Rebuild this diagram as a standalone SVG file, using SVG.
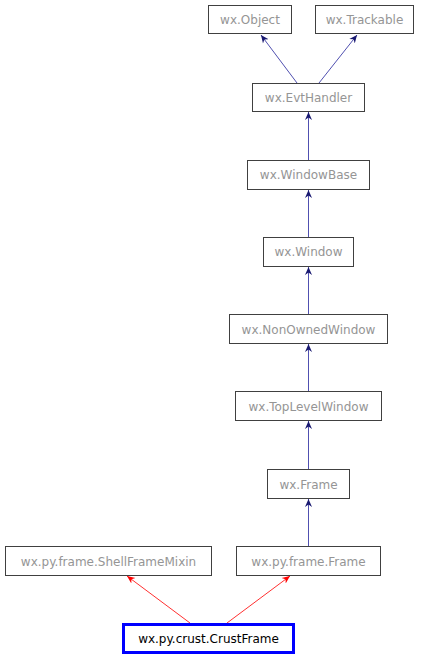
<svg xmlns="http://www.w3.org/2000/svg" width="424" height="659" viewBox="0 0 424 659">
<defs>
<style>
.node rect{fill:#ffffff;stroke:#404040;stroke-width:1}
.node text{font-family:"DejaVu Sans","Liberation Sans",sans-serif;font-size:12px;fill:#959595;text-anchor:middle}
.edge{fill:none;stroke-width:1}
.blue{stroke:#5050b0;marker-end:url(#ab)}
.red{stroke:#ff3030;marker-end:url(#ar)}
#crust rect{stroke:#0000ff;stroke-width:3}
#crust text{fill:#000000}
</style>
<marker id="ab" viewBox="-8 -4 8 8" refX="0" refY="0" markerWidth="8" markerHeight="8" markerUnits="userSpaceOnUse" orient="auto">
<path d="M0,0 L-8,-3.5 L-5.5,0 L-8,3.5 Z" fill="#191970"/>
</marker>
<marker id="ar" viewBox="-8 -4 8 8" refX="0" refY="0" markerWidth="8" markerHeight="8" markerUnits="userSpaceOnUse" orient="auto">
<path d="M0,0 L-8,-3.5 L-5.5,0 L-8,3.5 Z" fill="#ff0000"/>
</marker>
</defs>
<rect width="424" height="659" fill="#ffffff"/>
<g id="connectors">
<line class="edge blue" x1="297" y1="83" x2="261" y2="35"/>
<line class="edge blue" x1="319" y1="83" x2="357" y2="35"/>
<line class="edge blue" x1="308.5" y1="160" x2="308.5" y2="112"/>
<line class="edge blue" x1="308.5" y1="237" x2="308.5" y2="190"/>
<line class="edge blue" x1="308.5" y1="314" x2="308.5" y2="267"/>
<line class="edge blue" x1="308.5" y1="391" x2="308.5" y2="344"/>
<line class="edge blue" x1="308.5" y1="469" x2="308.5" y2="421"/>
<line class="edge blue" x1="308.5" y1="546" x2="308.5" y2="499"/>
<line class="edge red" x1="190" y1="623" x2="127" y2="576"/>
<line class="edge red" x1="227" y1="623" x2="290" y2="576"/>
</g>
<g id="object" class="node"><rect x="208.5" y="5.5" width="83" height="28"/><text x="250" y="23.5">wx.Object</text></g>
<g id="trackable" class="node"><rect x="315.5" y="5.5" width="98" height="28"/><text x="364.5" y="23.5">wx.Trackable</text></g>
<g id="evthandler" class="node"><rect x="252.5" y="83.5" width="112" height="28"/><text x="308.5" y="101.5">wx.EvtHandler</text></g>
<g id="windowbase" class="node"><rect x="247.5" y="160.5" width="122" height="29"/><text x="308.5" y="179">wx.WindowBase</text></g>
<g id="window" class="node"><rect x="263.5" y="237.5" width="90" height="29"/><text x="308.5" y="256">wx.Window</text></g>
<g id="nonownedwindow" class="node"><rect x="229.5" y="314.5" width="158" height="29"/><text x="308.5" y="333.5">wx.NonOwnedWindow</text></g>
<g id="toplevelwindow" class="node"><rect x="235.5" y="391.5" width="146" height="29"/><text x="308.5" y="410.5">wx.TopLevelWindow</text></g>
<g id="frame" class="node"><rect x="267.5" y="469.5" width="82" height="29"/><text x="308.5" y="488.5">wx.Frame</text></g>
<g id="shellframemixin" class="node"><rect x="5.5" y="546.5" width="206" height="29"/><text x="108.5" y="565.5">wx.py.frame.ShellFrameMixin</text></g>
<g id="pyframe" class="node"><rect x="236.5" y="546.5" width="144" height="29"/><text x="308.5" y="565.5">wx.py.frame.Frame</text></g>
<g id="crust" class="node"><rect x="123.5" y="624.5" width="170" height="28"/><text x="208.5" y="643">wx.py.crust.CrustFrame</text></g>
</svg>
